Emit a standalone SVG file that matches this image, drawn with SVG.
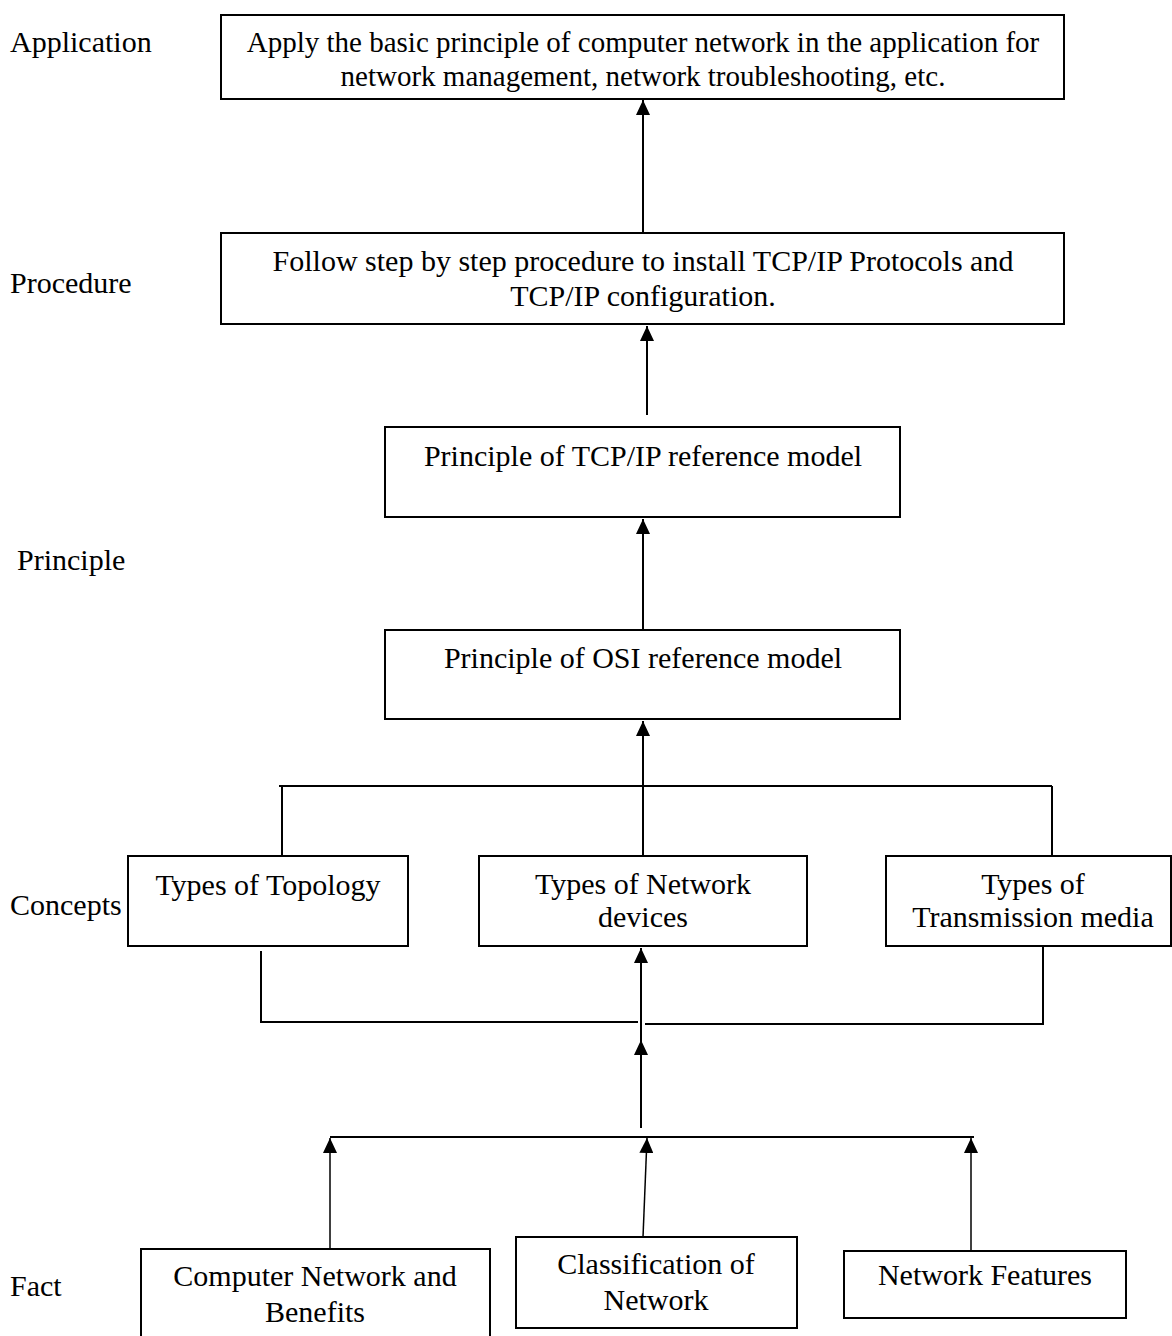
<svg xmlns="http://www.w3.org/2000/svg" width="1172" height="1336" viewBox="0 0 1172 1336">
<style>
text{font-family:"Liberation Serif","Times New Roman",serif;font-size:30px;fill:#000}
.c{text-anchor:middle}
.s{font-size:29px}
rect{fill:#fff;stroke:#000;stroke-width:2}
.ln{fill:none;stroke:#000;stroke-width:2}
.th{fill:none;stroke:#000;stroke-width:1.5}
</style>
<defs>
<marker id="ah" markerUnits="userSpaceOnUse" markerWidth="15" markerHeight="14" refX="15" refY="7" orient="auto">
<path d="M0,0 L15,7 L0,14 z" fill="#000"/>
</marker>
</defs>
<rect x="0" y="0" width="1172" height="1336" style="stroke:none"/>
<g id="levels">
<text x="10" y="52">Application</text>
<text x="10" y="293">Procedure</text>
<text x="17" y="570">Principle</text>
<text x="10" y="915">Concepts</text>
<text x="10" y="1296">Fact</text>
</g>
<g id="connectors">
<path class="ln" d="M643,233 L643,100" marker-end="url(#ah)"/>
<path class="ln" d="M647,415 L647,326" marker-end="url(#ah)"/>
<path class="ln" d="M643,630 L643,519" marker-end="url(#ah)"/>
<path class="ln" d="M643,856 L643,721" marker-end="url(#ah)"/>
<path class="ln" d="M279,786 L1052,786"/>
<path class="ln" d="M282,786 L282,856"/>
<path class="ln" d="M1052,786 L1052,856"/>
<path class="ln" d="M261,951 L261,1022 L638,1022"/>
<path class="ln" d="M645,1024 L1043,1024 L1043,946"/>
<path class="ln" d="M641,1128 L641,1040" marker-end="url(#ah)"/>
<path class="ln" d="M641,1040 L641,948" marker-end="url(#ah)"/>
<path class="ln" d="M330,1137 L974,1137"/>
<path class="th" d="M330,1249 L330,1138" marker-end="url(#ah)"/>
<path class="th" d="M643,1237 L647,1138" marker-end="url(#ah)"/>
<path class="th" d="M971,1251 L971,1138" marker-end="url(#ah)"/>
</g>
<g id="application">
<rect x="221" y="15" width="843" height="84"/>
<text class="c s" x="643" y="52">Apply the basic principle of computer network in the application for</text>
<text class="c s" x="643" y="86">network management, network troubleshooting, etc.</text>
</g>
<g id="procedure">
<rect x="221" y="233" width="843" height="91"/>
<text class="c" x="643" y="271">Follow step by step procedure to install TCP/IP Protocols and</text>
<text class="c" x="643" y="306">TCP/IP configuration.</text>
</g>
<g id="tcpip">
<rect x="385" y="427" width="515" height="90"/>
<text class="c" x="643" y="466">Principle of TCP/IP reference model</text>
</g>
<g id="osi">
<rect x="385" y="630" width="515" height="89"/>
<text class="c" x="643" y="668">Principle of OSI reference model</text>
</g>
<g id="topology">
<rect x="128" y="856" width="280" height="90"/>
<text class="c" x="268" y="895">Types of Topology</text>
</g>
<g id="devices">
<rect x="479" y="856" width="328" height="90"/>
<text class="c" x="643" y="894">Types of Network</text>
<text class="c" x="643" y="927">devices</text>
</g>
<g id="transmission">
<rect x="886" y="856" width="285" height="90"/>
<text class="c" x="1033" y="894">Types of</text>
<text class="c" x="1033" y="927">Transmission media</text>
</g>
<g id="computer-network">
<rect x="141" y="1249" width="349" height="100"/>
<text class="c" x="315" y="1286">Computer Network and</text>
<text class="c" x="315" y="1322">Benefits</text>
</g>
<g id="classification">
<rect x="516" y="1237" width="281" height="91"/>
<text class="c" x="656" y="1274">Classification of</text>
<text class="c" x="656" y="1310">Network</text>
</g>
<g id="features">
<rect x="844" y="1251" width="282" height="67"/>
<text class="c" x="985" y="1285">Network Features</text>
</g>
</svg>
